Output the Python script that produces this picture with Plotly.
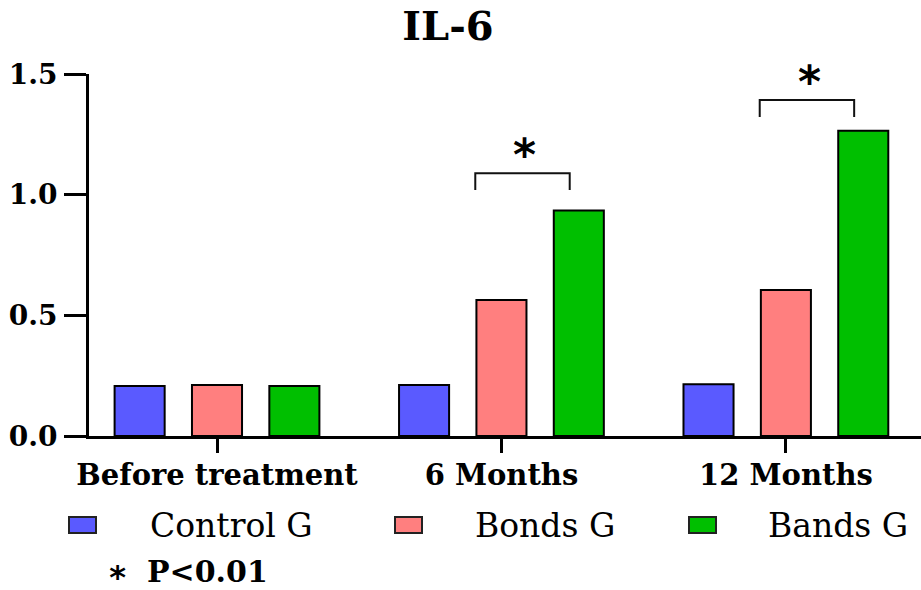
import plotly.graph_objects as go

# ---------------- data ----------------
categories = ["Before treatment", "6 Months", "12 Months"]
series_names = ["Control G", "Bonds G", "Bands G"]
control_g = [0.207, 0.211, 0.214]
bonds_g = [0.211, 0.564, 0.605]
bands_g = [0.207, 0.934, 1.265]
y_ticks = [0.0, 0.5, 1.0, 1.5]
y_tick_labels = ["0.0", "0.5", "1.0", "1.5"]
sig_groups = ["6 Months", "12 Months"]      # Bonds G vs Bands G
sig_levels = [1.089, 1.392]
sig_mark = "*"
note_text = "P<0.01"
title_text = "IL-6"

# ---------------- style ----------------
colors = ["#5A5AFF", "#FF7F7F", "#00BF00"]
W, H = 921, 590
L, R, T, B = 89, 921, 74, 436
SERIF = "DejaVu Serif"


def px_x(px):
    return (px - L) / (R - L)


def px_y(py):
    return (B - py) / (B - T)


fig = go.Figure()
for name, vals, col in zip(series_names, [control_g, bonds_g, bands_g], colors):
    fig.add_trace(go.Bar(
        x=categories, y=vals, name=name,
        marker=dict(color=col, line=dict(color="black", width=2)),
        showlegend=False,
    ))

# significance brackets
for g, lvl in zip(sig_groups, sig_levels):
    i = categories.index(g)
    x0, x1 = i - 0.092, i + 0.24
    drop = 0.07
    fig.add_shape(type="path", xref="x", yref="y",
                  path=f"M {x0},{lvl - drop} L {x0},{lvl} L {x1},{lvl} L {x1},{lvl - drop}",
                  line=dict(color="#111", width=2))
    fig.add_annotation(x=(x0 + x1) / 2 + 0.008, y=lvl, xref="x", yref="y",
                       text=sig_mark, showarrow=False, yanchor="bottom", yshift=-9,
                       font=dict(family="DejaVu Sans", size=44, color="black", weight="bold"))

# manual legend
sw_left = [69, 395, 689]
txt_left = [148, 473, 766]
for name, col, sl, tl in zip(series_names, colors, sw_left, txt_left):
    fig.add_shape(type="rect", xref="paper", yref="paper",
                  x0=px_x(sl), x1=px_x(sl + 27), y0=px_y(533), y1=px_y(517),
                  fillcolor=col, line=dict(color="#222", width=2))
    fig.add_annotation(x=px_x(tl), y=px_y(525), xref="paper", yref="paper",
                       text=name, showarrow=False, xanchor="left", yanchor="middle",
                       font=dict(family=SERIF, size=33, color="black"))

# p-value note (star turned 180 deg so the glyph sits low in its box, box stays inside page)
fig.add_annotation(x=px_x(118), y=px_y(589), xref="paper", yref="paper",
                   text=sig_mark, showarrow=False, xanchor="center", yanchor="bottom",
                   textangle=180,
                   font=dict(family="DejaVu Sans", size=32, color="black", weight="bold"))
fig.add_annotation(x=px_x(145), y=px_y(571.5), xref="paper", yref="paper",
                   text=note_text, showarrow=False, xanchor="left", yanchor="middle",
                   font=dict(family=SERIF, size=30, color="black", weight="bold"))

fig.update_layout(
    width=W, height=H,
    margin=dict(l=L, r=W - R, t=T, b=H - B, pad=0),
    paper_bgcolor="white", plot_bgcolor="white",
    barmode="group", bargap=0.184, bargroupgap=0.353,
    title=dict(text=title_text, x=448 / W, xanchor="center", xref="container",
               y=1 - 26 / H, yanchor="middle", yref="container",
               font=dict(family=SERIF, size=40, color="black", weight="bold")),
    xaxis=dict(
        range=[-0.45, 2.475], showline=True, linecolor="black", linewidth=3,
        ticks="outside", ticklen=14, tickwidth=3, tickcolor="black",
        showgrid=False, zeroline=False, ticklabelstandoff=-3,
        tickfont=dict(family=SERIF, size=29, color="black", weight="bold"),
    ),
    yaxis=dict(
        range=[0, 1.5], tickvals=y_ticks, ticktext=y_tick_labels,
        showline=True, linecolor="black", linewidth=3,
        ticks="outside", ticklen=22, tickwidth=3, tickcolor="black",
        showgrid=False, zeroline=False, ticklabelstandoff=1,
        tickfont=dict(family=SERIF, size=28, color="black", weight="bold"),
    ),
)

fig.write_html("out.html", config={"displayModeBar": False},
               post_script="document.body.style.margin='0px';")
